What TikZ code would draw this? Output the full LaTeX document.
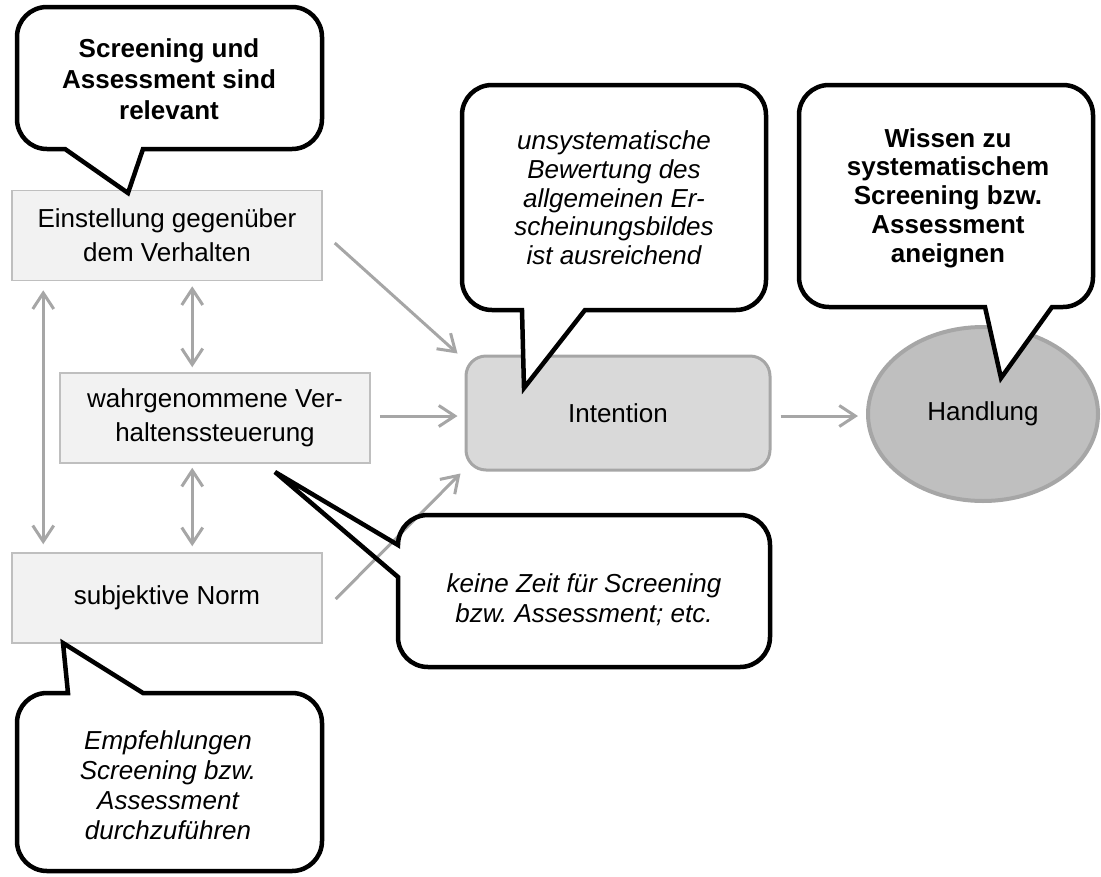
\documentclass[tikz,border=0pt]{standalone}
\usepackage{fontspec}
\setmainfont{Liberation Sans}
\frenchspacing
\usetikzlibrary{arrows.meta,calc,shapes.geometric}
\definecolor{boxfill}{HTML}{F2F2F2}
\definecolor{boxline}{HTML}{BFBFBF}
\definecolor{intfill}{HTML}{D9D9D9}
\definecolor{arrgray}{HTML}{A6A6A6}
\definecolor{handfill}{HTML}{BFBFBF}
\begin{document}
\begin{tikzpicture}[x=1pt,y=-1pt,
  tbox/.style={draw=boxline,fill=boxfill,line width=1.5pt,minimum width=310pt,minimum height=90pt,inner sep=0pt,align=center,font=\fontsize{26}{34}\selectfont},
  intbox/.style={draw=arrgray,fill=intfill,line width=3pt,rounded corners=20pt,minimum width=304pt,minimum height=114pt,inner sep=0pt,font=\fontsize{26}{30}\selectfont},
  handl/.style={ellipse,draw=arrgray,fill=handfill,line width=4pt,minimum width=230pt,minimum height=174pt,inner sep=0pt,font=\fontsize{26}{30}\selectfont},
  arr/.style={draw=arrgray,line width=3pt,-{Straight Barb[length=16pt,width=21pt]}},
  darr/.style={draw=arrgray,line width=3pt,{Straight Barb[length=16pt,width=21pt]}-{Straight Barb[length=16pt,width=21pt]}},
  bubble/.style={draw=black,fill=white,line width=4.5pt,line join=miter,miter limit=4},
  bubbleline/.style={draw=black,line width=4.5pt,line join=miter,miter limit=4},
  ctext/.style={align=center,inner sep=0pt},
]
\useasboundingbox (0,0) rectangle (1101,876);

% main nodes
\node[tbox] (E) at (167,235.5) {Einstellung gegenüber\\dem Verhalten};
\node[tbox] (W) at (215,418) {wahrgenommene Ver-\\haltenssteuerung};
\node[tbox] (S) at (167,598) {subjektive Norm};
\node[intbox] (I) at (618,413) {Intention};
\node[handl] (H) at (983,414) {Handlung};

% callout 1
\path[bubble] (65,149) -- (128,193) -- (143,149) -- (292,149)
  .. controls (308.6,149) and (322,135.6) .. (322,119) -- (322,37)
  .. controls (322,20.4) and (308.6,7) .. (292,7) -- (47,7)
  .. controls (30.4,7) and (17,20.4) .. (17,37) -- (17,119)
  .. controls (17,135.6) and (30.4,149) .. (47,149) -- cycle;
\node[ctext,font=\bfseries\fontsize{26}{31}\selectfont] (t1) at (169,79) {Screening und\\Assessment sind\\relevant};

% callout 2
\path[bubble] (522,310) -- (524,388) -- (585,310) -- (736,310)
  .. controls (752.6,310) and (766,296.6) .. (766,280) -- (766,115)
  .. controls (766,98.4) and (752.6,85) .. (736,85) -- (492,85)
  .. controls (475.4,85) and (462,98.4) .. (462,115) -- (462,280)
  .. controls (462,296.6) and (475.4,310) .. (492,310) -- cycle;
\node[ctext,font=\itshape\fontsize{26}{28.7}\selectfont] (t2) at (614,198) {unsystematische\\Bewertung des\\allgemeinen Er-\\scheinungsbildes\\ist ausreichend};

% callout 3
\path[bubble] (985,307) -- (1001,378) -- (1052,307) -- (1063,307)
  .. controls (1079.6,307) and (1093,293.6) .. (1093,277) -- (1093,115)
  .. controls (1093,98.4) and (1079.6,85) .. (1063,85) -- (829,85)
  .. controls (812.4,85) and (799,98.4) .. (799,115) -- (799,277)
  .. controls (799,293.6) and (812.4,307) .. (829,307) -- cycle;
\node[ctext,font=\bfseries\fontsize{26}{28.7}\selectfont] (t3) at (948,198) {Wissen zu\\systematischem\\Screening bzw.\\Assessment\\aneignen};

% callout 4 (fill first, outline after the arrows)
\def\calloutfour{(398,577) -- (275,472) -- (398,545)
  .. controls (398,528.4) and (411.4,515) .. (428,515) -- (740,515)
  .. controls (756.6,515) and (770,528.4) .. (770,545) -- (770,637)
  .. controls (770,653.6) and (756.6,667) .. (740,667) -- (428,667)
  .. controls (411.4,667) and (398,653.6) .. (398,637) -- cycle}
\fill[white] \calloutfour;
\node[ctext,font=\itshape\fontsize{26}{30}\selectfont] (t4) at (584,600) {keine Zeit für Screening\\bzw. Assessment; etc.};

% callout 5
\path[bubble] (68,693) -- (63,643) -- (143,693) -- (292,693)
  .. controls (308.6,693) and (322,706.4) .. (322,723) -- (322,841)
  .. controls (322,857.6) and (308.6,871) .. (292,871) -- (47,871)
  .. controls (30.4,871) and (17,857.6) .. (17,841) -- (17,723)
  .. controls (17,706.4) and (30.4,693) .. (47,693) -- cycle;
\node[ctext,font=\itshape\fontsize{26}{30}\selectfont] (t5) at (168,785) {Empfehlungen\\Screening bzw.\\Assessment\\durchzuführen};

% arrows
\draw[arr] ($(E.east)+(12,7.5)$) -- ($(I.north west)+(-7,-1)$);
\draw[arr] ($(W.east)+(9,-2)$) -- ($(I.west)+(-7,3)$);
\draw[arr] ($(S.east)+(13,1)$) -- ($(I.south west)+(-4,2)$);
\draw[arr] ($(I.east)+(9,3)$) -- ($(H.west)+(-8,2)$);
\draw[darr] ($(E.south west)+(32,9)$) -- ($(S.north west)+(32,-8)$);
\draw[darr] ($(E.south west)+(181,5)$) -- ($(W.north west)+(133,-5)$);
\draw[darr] ($(W.south west)+(133,4)$) -- ($(S.north west)+(181,-6)$);

% outline of callout 4 on top
\path[bubbleline] \calloutfour;
\end{tikzpicture}
\end{document}
